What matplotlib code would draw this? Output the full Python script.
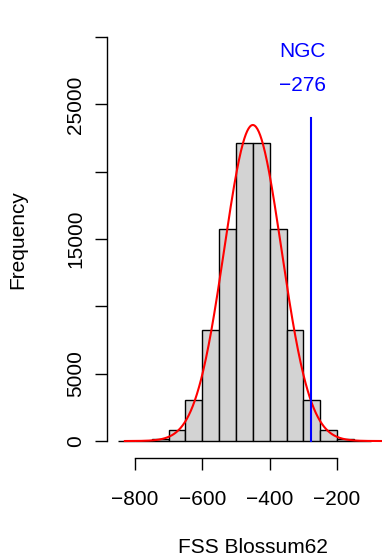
import numpy as np
import matplotlib
matplotlib.use('Agg')
import matplotlib.pyplot as plt

plt.rcParams['font.family'] = ['Liberation Sans', 'DejaVu Sans']

# histogram of FSS Blossum62 scores (bins of width 50)
bin_left = [-850, -800, -750, -700, -650, -600, -550, -500, -450, -400,
            -350, -300, -250, -200, -150]
counts = [5, 25, 150, 790, 3050, 8250, 15750, 22150, 22150, 15750,
          8250, 3050, 820, 160, 25]
bin_width = 50

# fitted normal curve parameters
fit_mean = -450
fit_sd = 85
n_total = 100000

# observed NGC score
ngc_score = -276
ngc_label = 'NGC'

xticks = [-800, -600, -400, -200]
yticks = [0, 5000, 10000, 15000, 20000, 25000, 30000]
ytick_labels = ['0', '5000', '', '15000', '', '25000', '']

fig = plt.figure(figsize=(3.82, 5.59), dpi=100)
ax = fig.add_axes([107 / 382, 1 - 458 / 559, 292 / 382, 437 / 559])

ax.bar(bin_left, counts, width=bin_width, align='edge',
       color='#D3D3D3', edgecolor='black', linewidth=1.0)

xs = np.linspace(-830, -16, 400)
dens = n_total * bin_width * np.exp(-0.5 * ((xs - fit_mean) / fit_sd) ** 2) / (fit_sd * np.sqrt(2 * np.pi))
ax.plot(xs, dens, color='red', linewidth=1.5)

ax.plot([ngc_score, ngc_score], [0, 24000], color='blue', linewidth=1.5)
ax.text(ngc_score - 27, 28900, ngc_label, color='blue', fontsize=15,
        ha='center', va='center')
ax.text(ngc_score - 27, 26400, '\u2212' + str(abs(ngc_score)), color='blue',
        fontsize=15, ha='center', va='center')

ax.set_xlim(-883, -16)
ax.set_ylim(-1260, 31190)

for s in ['top', 'right']:
    ax.spines[s].set_visible(False)
ax.spines['left'].set_bounds(0, 30000)
ax.spines['bottom'].set_bounds(-800, -200)
ax.spines['left'].set_linewidth(1.0)
ax.spines['bottom'].set_linewidth(1.0)

ax.set_xticks(xticks)
ax.set_xticklabels(['\u2212' + str(abs(v)) for v in xticks])
ax.set_yticks(yticks)
ax.set_yticklabels(ytick_labels, rotation=90, va='center')
ax.tick_params(axis='both', length=8.6, width=1.0, labelsize=15)
ax.tick_params(axis='x', pad=14.5)
ax.tick_params(axis='y', pad=7)

ax.set_xlabel('FSS Blossum62', fontsize=15, labelpad=21)
ax.set_ylabel('Frequency', fontsize=15, labelpad=28)

fig.savefig('out.png', dpi=100)
